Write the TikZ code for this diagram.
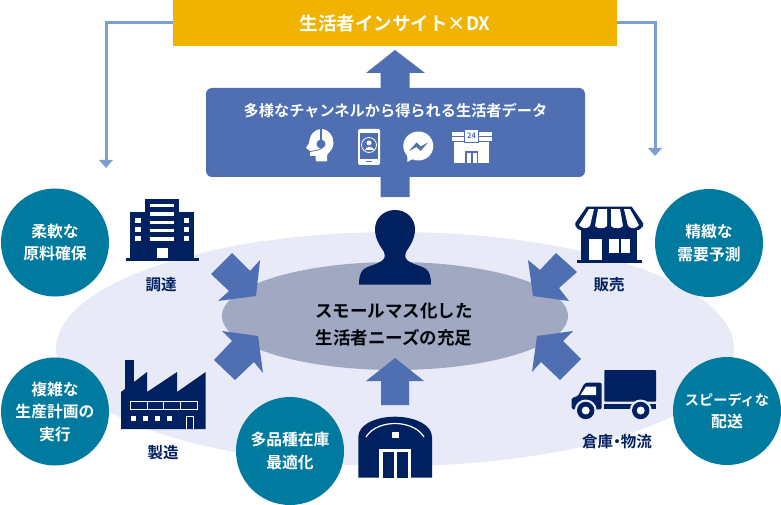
\documentclass[tikz,border=0pt]{standalone}
\usepackage{fontspec}
\setmainfont{Noto Sans CJK JP}[BoldFont={Noto Sans CJK JP Bold}]
\definecolor{navy}{HTML}{00205F}
\definecolor{arrowblue}{HTML}{4F6FB2}
\definecolor{lineblue}{HTML}{7C9FD1}
\definecolor{teal1}{HTML}{007A9F}
\definecolor{gold}{HTML}{F2B200}
\definecolor{lav}{HTML}{E8EAF8}
\definecolor{greyb}{HTML}{A0A8C2}
\tikzset{
 x=1pt,y=-1pt,
 circ/.style={circle,fill=teal1,minimum size=108pt,inner sep=0pt,text=white,font=\bfseries\fontsize{15.8}{22.5}\selectfont,align=center},
 lbl/.style={text=navy,font=\bfseries\fontsize{15.5}{17}\selectfont},
 conn/.style={draw=lineblue,line width=3pt},
 nv/.style={fill=navy},
 wh/.style={fill=white},
 ar/.style={fill=arrowblue},
}
\begin{document}
\begin{tikzpicture}
\useasboundingbox (0,0) rectangle (781,505);
% background ellipses
\fill[lav] (395,349) ellipse [x radius=339,y radius=117];
\fill[greyb] (395,316) ellipse [x radius=173,y radius=54];
% top box and connectors
\node[fill=gold,minimum width=444pt,minimum height=46pt,inner sep=0pt,text=white,font=\bfseries\fontsize{18.5}{20}\selectfont] (top) at (395,23) {生活者インサイト×DX};
\coordinate (lc) at (106,23); \coordinate (le) at (106,161);
\coordinate (rc) at (655,23); \coordinate (re) at (655,149);
\draw[conn] (top.west) -- (lc) -- (le);
\draw[conn] (top.east) -- (rc) -- (re);
\fill[lineblue] (99,160) -- (113,160) -- (106,168) -- cycle;
\fill[lineblue] (648,148) -- (662,148) -- (655,156) -- cycle;
% central arrows
\fill[ar] (395,50) -- (425,73) -- (409.500,73) -- (409.500,197) -- (380.500,197) -- (380.500,73) -- (366,73) -- cycle;
\fill[ar] (395,358) -- (424,381) -- (409,381) -- (409,405) -- (381,405) -- (381,381) -- (366,381) -- cycle;
\fill[ar] (260,260) -- (256,296) -- (218,301) -- (229,291) -- (211,274) -- (232,253) -- (250,271) -- cycle;
\fill[ar] (222,331) -- (258,336) -- (263,373) -- (254,362) -- (235,380) -- (214,360) -- (232,341) -- cycle;
\fill[ar] (528,260) -- (533,296) -- (569,301) -- (559,288) -- (577,272) -- (556,253) -- (540,270) -- cycle;
\fill[ar] (573,331) -- (537,336) -- (532,372) -- (541,362) -- (560,380) -- (581,359) -- (563,341) -- cycle;
% data box
\node[fill=arrowblue,rounded corners=6pt,minimum width=379pt,minimum height=89pt,inner sep=0pt] (data) at (395.500,132.500) {};
\node[text=white,font=\bfseries\fontsize{15.2}{16}\selectfont] (datal) at (395.500,111) {多様なチャンネルから得られる生活者データ};
% headset head
\fill[white] (309,143) .. controls (310,134) and (315,129) .. (321,129) .. controls (329,129) and (333.500,136) .. (333.500,143) .. controls (333.500,149) and (329,152) .. (327,155) -- (327,161.500) -- (316,161.500) -- (315.500,156) -- (310,156) -- (310,151) -- (306,148) -- cycle;
\fill[arrowblue] (319.800,129) rectangle (322,140);
\fill[arrowblue] (321,144) circle [radius=4.500];
\draw[arrowblue,line width=0.8pt] (322,148) .. controls (320,150) and (316,150.500) .. (310,151.500);
% phone
\fill[white,rounded corners=1.5pt] (358,129) rectangle (380,165);
\fill[arrowblue] (360,133) rectangle (378,159);
\draw[white,line width=0.8pt] (369,145) circle [radius=7.500];
\fill[white] (369,143) circle [radius=2.500];
\fill[white] (364.500,150) .. controls (364.500,146) and (373.500,146) .. (373.500,150) -- cycle;
\fill[arrowblue] (366,161) rectangle (372,162.500);
% messenger
\fill[white] (418.300,146) ellipse [x radius=15,y radius=14.500];
\fill[white] (407,153) -- (407.500,162) -- (416,157) -- cycle;
\fill[arrowblue] (409,151) -- (416.500,142.500) -- (420.500,146.500) -- (428,142.500) -- (420.500,151) -- (416.500,147) -- cycle;
% 24 store
\fill[white] (451.700,132) rectangle (491.700,136);
\fill[white] (451.700,137) rectangle (491.700,141.300);
\fill[white] (454,142.500) rectangle (489,163);
\node[draw=arrowblue,fill=white,line width=0.5pt,minimum width=14pt,minimum height=13pt,inner sep=0pt,text=arrowblue,font=\bfseries\fontsize{7.500}{9}\selectfont] (s24) at (471.500,136) {24};
\fill[arrowblue] (465,151) rectangle (478,163);
\fill[white] (467,153) rectangle (471,163);
\fill[white] (472.500,153) rectangle (476.500,163);
% person
\fill[navy] (395,210) .. controls (383,210) and (375,219) .. (375,229) .. controls (375,240) and (381,247) .. (384,252) .. controls (386,257) and (384,260) .. (380,262) .. controls (375,265) and (368,266) .. (364,269) .. controls (360,272) and (359,278) .. (359,284.500) -- (431,284.500) .. controls (431,278) and (430,272) .. (426,269) .. controls (422,266) and (415,265) .. (410,262) .. controls (406,260) and (404,257) .. (406,252) .. controls (409,247) and (415,240) .. (415,229) .. controls (415,219) and (407,210) .. (395,210) -- cycle;
\node[text=black!90!navy,font=\bfseries\fontsize{17.500}{27}\selectfont,align=center] (center) at (394,324.500) {スモールマス化した\\生活者ニーズの充足};
% building
\fill[navy] (145,199) rectangle (179,260);
\fill[navy] (130,212) rectangle (194,260);
\fill[navy] (126,258) rectangle (199,260.500);
\foreach \yy in {204,212.300,220.600,229,237.300} \fill[white] (150,\yy) rectangle (174,\yy+3.300);
\foreach \yy in {218,227,236} {\fill[white] (135,\yy) rectangle (140.500,\yy+5);\fill[white] (184,\yy) rectangle (189,\yy+5);}
\fill[white] (156.500,248) rectangle (167.500,258);
\node[lbl] (l1) at (161,285) {調達};
% factory
\fill[navy] (125,360) rectangle (133.500,392);
\fill[navy] (121,392) -- (147,372) -- (147,392) -- (177,372) -- (177,392) -- (205.700,372) -- (205.700,429) -- (121,429) -- cycle;
\draw[white,line width=1pt] (130.500,401.500) rectangle (197.500,409.500);
\foreach \xx in {147,163.500,180} \draw[white,line width=1pt] (\xx,401.500) -- (\xx,409.500);
\foreach \xx in {130.700,142.700,154.700,166.700} \fill[white] (\xx,415.700) rectangle (\xx+5,420.700);
\draw[white,line width=1pt] (186.500,429) -- (186.500,416) -- (193,416) -- (193,429);
\node[lbl] (l2) at (163,453) {製造};
% warehouse
\fill[navy] (358.300,477.700) -- (358.300,437) .. controls (358.300,425) and (375,416.700) .. (395,416.700) .. controls (415,416.700) and (432,425) .. (432,437) -- (432,477.700) -- cycle;
\draw[white,line width=1.200pt] (366,437) .. controls (372,427) and (385,423.500) .. (395,423.500) .. controls (405,423.500) and (418,427) .. (424,437);
\fill[white] (391.700,431.700) rectangle (398.700,438.300);
\fill[white] (379.300,449) rectangle (410.700,477.700);
\fill[navy] (382.700,451.700) rectangle (393.700,477.700);
\fill[navy] (396.700,451.700) rectangle (407.700,477.700);
% shop
\fill[navy] (581,222) rectangle (636.700,261);
\fill[navy] (577.300,260) rectangle (641.700,262.700);
\fill[navy] (586.700,206.700) -- (631.700,206.700) -- (643,223) -- (643,226) .. controls (640,232) and (631,232) .. (626,226) .. controls (622,232) and (613,232) .. (609,226) .. controls (605,232) and (597,232) .. (592,226) .. controls (588,232) and (578,232) .. (575.300,226) -- (575.300,223) -- cycle;
\fill[white] (589,209) -- (594,209) -- (590,226) .. controls (587,229) and (582,229) .. (579,225) -- cycle;
\fill[white] (598,209) -- (607,209) -- (607,226) .. controls (605,229) and (597,229) .. (595,226) -- cycle;
\fill[white] (611,209) -- (620,209) -- (623,226) .. controls (621,229) and (613,229) .. (611,226) -- cycle;
\fill[white] (624,209) -- (630,209) -- (639,225) .. controls (636,229) and (631,229) .. (628,226) -- cycle;
\fill[white] (589.300,239.300) rectangle (601.700,260);
\fill[white] (609,239.300) rectangle (618.500,253.300);
\fill[white] (620.500,239.300) rectangle (630,253.300);
\node[lbl] (l3) at (609,285) {販売};
% truck
\fill[navy,rounded corners=0.8pt] (604.300,370) rectangle (656,401.700);
\fill[navy] (604.300,404) rectangle (656,409.300);
\fill[navy,rounded corners=1.5pt] (601.700,382.500) -- (601.700,409.300) -- (571.700,409.300) -- (571.700,398) -- (578,396) -- (584,384) -- (587,382.500) -- cycle;
\fill[white] (586,386.700) -- (596,386.700) -- (596,395) -- (580.500,395) -- cycle;
\fill[lav] (585.700,410.500) circle [radius=11];
\fill[lav] (640.700,410.500) circle [radius=11];
\fill[navy] (585.700,410.500) circle [radius=8.700];
\fill[navy] (640.700,410.500) circle [radius=8.700];
\fill[white] (585.700,410.500) circle [radius=4];
\fill[white] (640.700,410.500) circle [radius=4];
\node[lbl] (l4) at (617,441.700) {倉庫\kern-.25em・\kern-.25em物流};
% circles
\node[circ] (c1) at (55,242.500) {柔軟な\\原料確保};
\node[circ] (c2) at (55,411.500) {複雑な\\生産計画の\\実行};
\node[circ] (c3) at (290,451) {多品種在庫\\最適化};
\node[circ] (c4) at (709,243) {精緻な\\需要予測};
\node[circ] (c5) at (727,411) {{\fontsize{14.2}{22.5}\selectfont スピーディな}\\配送};
\end{tikzpicture}
\end{document}
